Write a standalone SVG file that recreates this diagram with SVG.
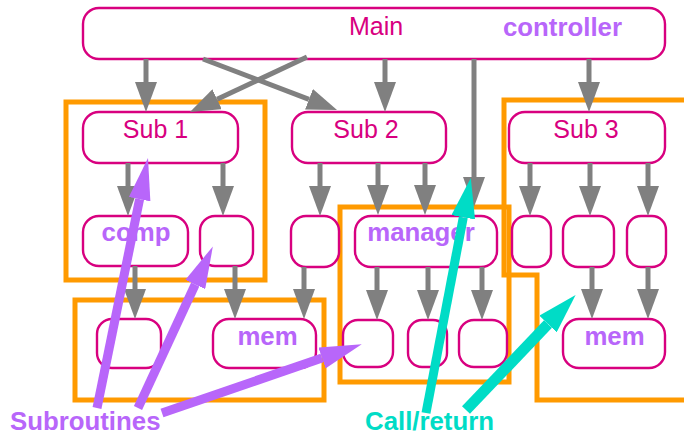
<svg xmlns="http://www.w3.org/2000/svg" width="684" height="435" viewBox="0 0 684 435">
<defs>
<style>
.node{fill:#fff;stroke:#d8007f;stroke-width:2.4}
.grp{fill:none;stroke:#ff9a00;stroke-width:5}
.gl{fill:none;stroke:#808080;stroke-width:5}
.pl{fill:none;stroke:#b866fa;stroke-width:9}
.tl{fill:none;stroke:#00dcc6;stroke-width:9}
.t{font-family:"Liberation Sans",Arial,sans-serif;font-size:25px;fill:#d8007f}
.b{font-family:"Liberation Sans",Arial,sans-serif;font-size:25.8px;font-weight:bold;fill:#b866fa}
.c{fill:#00dcc6}
</style>
<marker id="ag" viewBox="0 0 30 22" markerWidth="30" markerHeight="22" refX="0" refY="11" markerUnits="userSpaceOnUse" orient="auto"><path d="M0,0 L30,11 L0,22 z" fill="#808080"/></marker>
<marker id="ap" viewBox="0 0 42 22" markerWidth="42" markerHeight="22" refX="0" refY="11" markerUnits="userSpaceOnUse" orient="auto"><path d="M0,0 L42,11 L0,22 z" fill="#b866fa"/></marker>
<marker id="at" viewBox="0 0 40 24" markerWidth="40" markerHeight="24" refX="0" refY="12" markerUnits="userSpaceOnUse" orient="auto"><path d="M0,0 L40,12 L0,24 z" fill="#00dcc6"/></marker>
</defs>
<rect width="684" height="435" fill="#fff"/>
<g id="groups">
<rect class="grp" x="66" y="102" width="199" height="178"/>
<rect class="grp" x="75" y="300" width="249" height="100"/>
<rect class="grp" x="340" y="207" width="169" height="175"/>
<polyline class="grp" points="690,100 504,100 504,275 537,275 537,400 690,400"/>
</g>
<g id="main"><rect class="node" x="83" y="8" width="582" height="51" rx="16"/><text class="t" x="349" y="35">Main</text><text class="b" x="503" y="36">controller</text></g>
<g id="sub1"><rect class="node" x="83" y="112" width="155" height="51" rx="16"/><text class="t" x="155.5" y="138" text-anchor="middle">Sub 1</text></g>
<g id="sub2"><rect class="node" x="292" y="112" width="154" height="51" rx="16"/><text class="t" x="366" y="138" text-anchor="middle">Sub 2</text></g>
<g id="sub3"><rect class="node" x="509" y="112" width="156" height="51" rx="16"/><text class="t" x="586" y="138" text-anchor="middle">Sub 3</text></g>
<g id="comp"><rect class="node" x="83" y="216" width="105" height="50" rx="16"/><text class="b" x="136" y="241" text-anchor="middle">comp</text></g>
<g id="n1b"><rect class="node" x="200" y="216" width="53" height="50" rx="15"/></g>
<g id="n2a"><rect class="node" x="291" y="216" width="48" height="51" rx="15"/></g>
<g id="manager"><rect class="node" x="355" y="216" width="142" height="51" rx="16"/><text class="b" x="421" y="241" text-anchor="middle">manager</text></g>
<g id="n3a"><rect class="node" x="512" y="216" width="39" height="51" rx="14"/></g>
<g id="n3b"><rect class="node" x="563" y="216" width="51" height="51" rx="15"/></g>
<g id="n3c"><rect class="node" x="627" y="216" width="39" height="51" rx="14"/></g>
<g id="b1"><rect class="node" x="97" y="319" width="64" height="49" rx="15"/></g>
<g id="mem1"><rect class="node" x="213" y="319" width="103" height="49" rx="16"/><text class="b" x="267.5" y="345" text-anchor="middle">mem</text></g>
<g id="m1"><rect class="node" x="343" y="320" width="50" height="47" rx="15"/></g>
<g id="m2"><rect class="node" x="408" y="320" width="39" height="47" rx="14"/></g>
<g id="m3"><rect class="node" x="459" y="320" width="48" height="47" rx="15"/></g>
<g id="mem2"><rect class="node" x="563" y="319" width="102" height="49" rx="16"/><text class="b" x="614.5" y="345" text-anchor="middle">mem</text></g>
<g id="connectors">
<line class="gl" x1="146" y1="59" x2="146" y2="82" marker-end="url(#ag)"/>
<line class="gl" x1="385" y1="59" x2="385" y2="82" marker-end="url(#ag)"/>
<line class="gl" x1="589" y1="59" x2="589" y2="82" marker-end="url(#ag)"/>
<line class="gl" x1="474" y1="59" x2="474" y2="177" marker-end="url(#ag)"/>
<line class="gl" x1="203" y1="59" x2="309" y2="99.3" marker-end="url(#ag)"/>
<line class="gl" x1="307" y1="57" x2="217.1" y2="99.2" marker-end="url(#ag)"/>
<line class="gl" x1="128" y1="163" x2="128" y2="186" marker-end="url(#ag)"/>
<line class="gl" x1="223" y1="163" x2="223" y2="186" marker-end="url(#ag)"/>
<line class="gl" x1="320" y1="163" x2="320" y2="186" marker-end="url(#ag)"/>
<line class="gl" x1="378" y1="163" x2="378" y2="185" marker-end="url(#ag)"/>
<line class="gl" x1="425" y1="163" x2="425" y2="185" marker-end="url(#ag)"/>
<line class="gl" x1="530" y1="163" x2="530" y2="186" marker-end="url(#ag)"/>
<line class="gl" x1="590" y1="163" x2="590" y2="186" marker-end="url(#ag)"/>
<line class="gl" x1="648" y1="163" x2="648" y2="186" marker-end="url(#ag)"/>
<line class="gl" x1="135" y1="266" x2="135" y2="289" marker-end="url(#ag)"/>
<line class="gl" x1="235" y1="266" x2="235" y2="289" marker-end="url(#ag)"/>
<line class="gl" x1="304" y1="267" x2="304" y2="289" marker-end="url(#ag)"/>
<line class="gl" x1="377" y1="267" x2="377" y2="290" marker-end="url(#ag)"/>
<line class="gl" x1="428" y1="267" x2="428" y2="290" marker-end="url(#ag)"/>
<line class="gl" x1="482" y1="267" x2="482" y2="290" marker-end="url(#ag)"/>
<line class="gl" x1="592" y1="267" x2="592" y2="289" marker-end="url(#ag)"/>
<line class="gl" x1="648" y1="267" x2="648" y2="289" marker-end="url(#ag)"/>
</g>
<g id="annotations">
<line class="pl" x1="97" y1="408" x2="139.6" y2="199.2" marker-end="url(#ap)"/>
<line class="pl" x1="138" y1="408" x2="195.2" y2="284.5" marker-end="url(#ap)"/>
<line class="pl" x1="162" y1="413" x2="322" y2="358" marker-end="url(#ap)"/>
<line class="tl" x1="426" y1="413" x2="463.3" y2="217.3" marker-end="url(#at)"/>
<line class="tl" x1="466" y1="410" x2="548" y2="324" marker-end="url(#at)" style="stroke-width:11"/>
<text class="b" x="10" y="430">Subroutines</text>
<text class="b c" x="365" y="430">Call/return</text>
</g>
</svg>
